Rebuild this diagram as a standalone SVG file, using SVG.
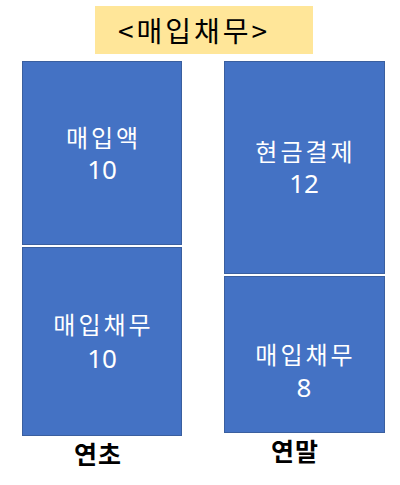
<svg xmlns="http://www.w3.org/2000/svg" width="400" height="485" viewBox="0 0 400 485">
<style>
.box{fill:#4472C4;stroke:#3A5F9F;stroke-width:1}
.t{font-family:"Noto Sans CJK KR","Noto Sans",sans-serif;font-size:24px;fill:#FFFFFF;text-anchor:middle;letter-spacing:3px}
.n{font-family:"Noto Sans","Noto Sans CJK KR",sans-serif;font-size:26px;fill:#FFFFFF;text-anchor:middle}
.lbl{font-family:"Noto Sans CJK KR","Noto Sans",sans-serif;font-size:25px;font-weight:bold;fill:#000000;text-anchor:middle;letter-spacing:1px}
</style>
<rect width="400" height="485" fill="#FFFFFF"/>
<g id="title">
<rect x="95" y="6" width="218" height="48" fill="#FFE699"/>
<text x="194" y="42" font-family="'Noto Sans CJK KR','Noto Sans',sans-serif" font-size="28" fill="#000000" text-anchor="middle" letter-spacing="3">&lt;매입채무&gt;</text>
</g>
<g id="begin-purchase">
<rect class="box" x="22.5" y="61.5" width="159" height="183"/>
<text class="t" x="103.5" y="147">매입액</text>
<text class="n" x="102" y="179">10</text>
</g>
<g id="begin-payable">
<rect class="box" x="22.5" y="247.5" width="159" height="188"/>
<text class="t" x="103.5" y="334">매입채무</text>
<text class="n" x="102" y="368">10</text>
</g>
<g id="end-cash">
<rect class="box" x="224.5" y="61.5" width="160" height="212"/>
<text class="t" x="305.5" y="161">현금결제</text>
<text class="n" x="304" y="193">12</text>
</g>
<g id="end-payable">
<rect class="box" x="224.5" y="276.5" width="160" height="156"/>
<text class="t" x="305.5" y="364">매입채무</text>
<text class="n" x="304" y="397">8</text>
</g>
<g id="connectors"></g>
<g id="labels">
<text class="lbl" x="98" y="464">연초</text>
<text class="lbl" x="295" y="461">연말</text>
</g>
</svg>
